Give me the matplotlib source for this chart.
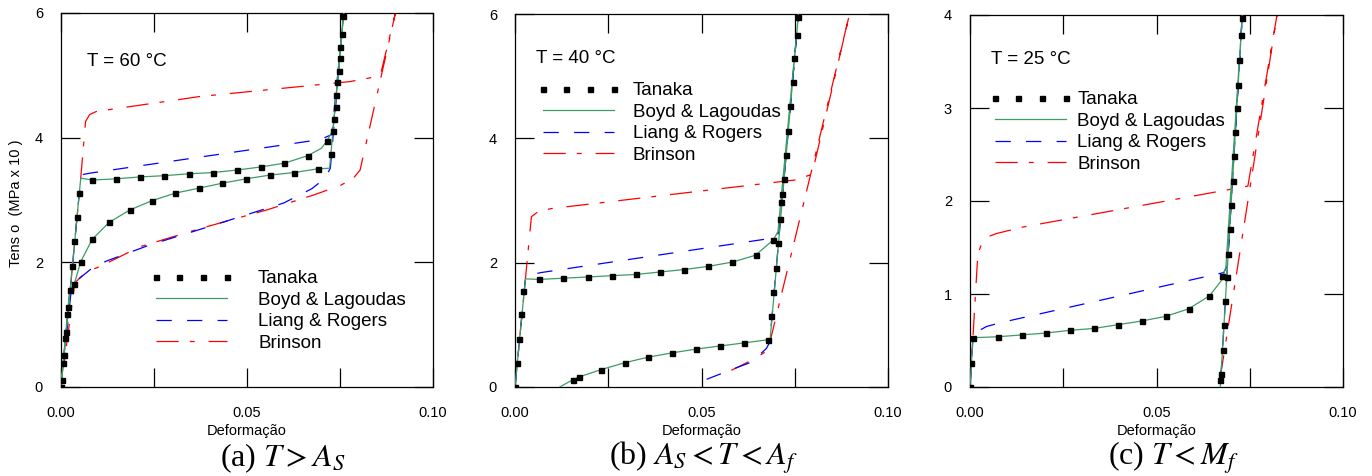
import numpy as np
import matplotlib
matplotlib.use('Agg')
import matplotlib.pyplot as plt
from matplotlib.ticker import FixedLocator

plt.rcParams['font.family'] = ['Liberation Sans', 'DejaVu Sans']
plt.rcParams['mathtext.fontset'] = 'stix'
plt.rcParams['lines.scale_dashes'] = False

# ---- (a) T = 60 C ----
tanaka_a_x = [0, 0.0006, 0.0012, 0.0017, 0.0023, 0.0030, 0.0036, 0.0042, 0.0048,
              0.0084, 0.0148, 0.0213, 0.0277, 0.0343, 0.0408, 0.0472, 0.0537, 0.0600, 0.0663, 0.0714,
              0.0732, 0.0735, 0.0738, 0.0740, 0.0743, 0.0746, 0.0749, 0.0751, 0.0755, 0.0759,
              0.0726, 0.0690, 0.0626, 0.0562, 0.0498, 0.0434, 0.0371, 0.0307, 0.0245, 0.0185,
              0.0129, 0.0084, 0.0053, 0.0036, 0.0020, 0.0014, 0.0009, 0.0004]
tanaka_a_y = [0, 0.39, 0.78, 1.17, 1.55, 1.94, 2.35, 2.72, 3.11,
              3.32, 3.34, 3.37, 3.39, 3.42, 3.44, 3.48, 3.53, 3.59, 3.71, 3.94,
              4.11, 4.30, 4.50, 4.68, 4.89, 5.07, 5.28, 5.45, 5.66, 5.95,
              3.73, 3.50, 3.44, 3.40, 3.34, 3.27, 3.19, 3.11, 2.99, 2.84,
              2.64, 2.37, 2.01, 1.66, 1.29, 0.88, 0.51, 0.12]
boyd_a_x = [0, 0.0053, 0.0084, 0.0148, 0.0213, 0.0277, 0.0343, 0.0408, 0.0472, 0.0537, 0.0600,
            0.0663, 0.0700, 0.0714, 0.0731, 0.0760, 0.0722, 0.0690, 0.0626, 0.0562, 0.0498, 0.0434,
            0.0371, 0.0307, 0.0245, 0.0185, 0.0129, 0.0084, 0.0053, 0.0036, 0.0023, 0]
boyd_a_y = [0, 3.35, 3.32, 3.34, 3.37, 3.39, 3.42, 3.44, 3.48, 3.53, 3.59,
            3.71, 3.83, 3.94, 4.12, 6.0, 3.51, 3.50, 3.44, 3.40, 3.34, 3.27,
            3.19, 3.11, 2.99, 2.84, 2.64, 2.37, 2.01, 1.66, 1.55, 0]
liang_a_x = [0, 0.0053, 0.0060, 0.0077, 0.0697, 0.0728, 0.0760, 0.0724, 0.0710, 0.0674, 0.0598,
             0.0481, 0.0364, 0.0239, 0.0122, 0.0086, 0.0045, 0.0028, 0]
liang_a_y = [0, 3.35, 3.41, 3.43, 3.97, 4.05, 6.0, 3.51, 3.35, 3.18, 2.95,
             2.73, 2.51, 2.28, 2.02, 1.92, 1.72, 1.58, 0]
brinson_a_x = [0, 0.0053, 0.0066, 0.0077, 0.0095, 0.0373, 0.0643, 0.0777, 0.0822, 0.0858, 0.0899,
               0.0804, 0.0786, 0.0750, 0.0679, 0.0553, 0.0373, 0.0212, 0.0104, 0.0068, 0.0037, 0]
brinson_a_y = [0, 3.35, 4.26, 4.37, 4.42, 4.66, 4.82, 4.90, 4.95, 4.99, 6.0,
               3.48, 3.35, 3.23, 3.08, 2.84, 2.54, 2.25, 1.93, 1.85, 1.67, 0]

# ---- (b) T = 40 C ----
tanaka_b_x = [0, 0.0005, 0.0011, 0.0017, 0.0022,
              0.0064, 0.0130, 0.0195, 0.0259, 0.0324, 0.0389, 0.0454, 0.0518, 0.0583, 0.0645, 0.0693,
              0.0705, 0.0710, 0.0714, 0.0717, 0.0721, 0.0726, 0.0732, 0.0737, 0.0744, 0.0749, 0.0755, 0.0760,
              0.0699, 0.0693, 0.0687, 0.0678, 0.0615, 0.0550, 0.0486, 0.0422, 0.0357, 0.0294, 0.0231,
              0.0171, 0.0156]
tanaka_b_y = [0, 0.39, 0.78, 1.17, 1.55,
              1.73, 1.75, 1.77, 1.79, 1.81, 1.85, 1.89, 1.94, 2.01, 2.12, 2.37,
              2.31, 2.71, 2.98, 3.11, 3.34, 3.73, 4.12, 4.52, 4.91, 5.29, 5.67, 5.95,
              1.92, 1.53, 1.15, 0.76, 0.71, 0.66, 0.61, 0.55, 0.48, 0.39, 0.28,
              0.16, 0.12]
boyd_b_x = [0, 0.0028, 0.0064, 0.0130, 0.0195, 0.0259, 0.0324, 0.0389, 0.0454, 0.0518, 0.0583,
            0.0645, 0.0693, 0.0705, 0.0760, 0.0684, 0.0678, 0.0615, 0.0550, 0.0486, 0.0422, 0.0357,
            0.0294, 0.0231, 0.0171, 0.0156, 0.0120]
boyd_b_y = [0, 1.74, 1.73, 1.75, 1.77, 1.79, 1.81, 1.85, 1.89, 1.94, 2.01,
            2.12, 2.37, 2.50, 6.0, 0.77, 0.76, 0.71, 0.66, 0.61, 0.55, 0.48,
            0.39, 0.28, 0.16, 0.12, 0]
liang_b_x = [0, 0.0028, 0.0039, 0.0069, 0.0696, 0.0708, 0.0760, 0.0683, 0.0674, 0.0634, 0.0598,
             0.0482, 0.0480]
liang_b_y = [0, 1.74, 1.80, 1.84, 2.40, 2.50, 6.0, 0.72, 0.62, 0.40, 0.32,
             0.05, 0.04]
brinson_b_x = [0, 0.0044, 0.0062, 0.0097, 0.0750, 0.0796, 0.0897, 0.0678, 0.0643, 0.0598, 0.0580]
brinson_b_y = [0, 2.74, 2.82, 2.87, 3.33, 3.42, 6.0, 0.59, 0.46, 0.32, 0.27]

# ---- (c) T = 25 C ----
tanaka_c_x = [0, 0.0004, 0.0008, 0.0074, 0.0139, 0.0203, 0.0269, 0.0333, 0.0397, 0.0461, 0.0525,
              0.0586, 0.0642, 0.0675,
              0.0691, 0.0696, 0.0700, 0.0704, 0.0707, 0.0711, 0.0715, 0.0719, 0.0722, 0.0727, 0.0730,
              0.0688, 0.0684, 0.0680, 0.0677, 0.0673, 0.0671]
tanaka_c_y = [0, 0.26, 0.53, 0.54, 0.56, 0.58, 0.61, 0.63, 0.67, 0.71, 0.76,
              0.84, 0.98, 1.19,
              1.43, 1.70, 1.96, 2.22, 2.48, 2.74, 3.00, 3.25, 3.52, 3.78, 3.97,
              1.18, 0.92, 0.67, 0.40, 0.14, 0.08]
boyd_c_x = [0, 0.0008, 0.0074, 0.0139, 0.0203, 0.0269, 0.0333, 0.0397, 0.0461, 0.0525, 0.0586,
            0.0642, 0.0675, 0.0686, 0.0730, 0.0671]
boyd_c_y = [0, 0.53, 0.54, 0.56, 0.58, 0.61, 0.63, 0.67, 0.71, 0.76, 0.84,
            0.98, 1.15, 1.29, 4.0, 0]
liang_c_x = [0, 0.0008, 0.0017, 0.0044, 0.0080, 0.0680, 0.0690, 0.0730, 0.0671]
liang_c_y = [0, 0.54, 0.59, 0.65, 0.69, 1.23, 1.30, 4.0, 0]
brinson_c_x = [0, 0.0021, 0.0037, 0.0071, 0.0142, 0.0745, 0.0823, 0.0667]
brinson_c_y = [0, 1.43, 1.60, 1.65, 1.72, 2.16, 4.0, 0]

labels = ['Tanaka', 'Boyd & Lagoudas', 'Liang & Rogers', 'Brinson']
temps = ['T = 60 °C', 'T = 40 °C', 'T = 25 °C']
captions = [r'(a) $T > A_S$', r'(b) $A_S < T < A_f$', r'(c) $T < M_f$']
ymax = [6, 6, 4]
yticks = [[0, 2, 4, 6], [0, 2, 4, 6], [0, 1, 2, 3, 4]]
temp_pos = [(0.007, 5.22), (0.0057, 5.29), (0.0055, 3.52)]

data = [
    (tanaka_a_x, tanaka_a_y, boyd_a_x, boyd_a_y, liang_a_x, liang_a_y, brinson_a_x, brinson_a_y),
    (tanaka_b_x, tanaka_b_y, boyd_b_x, boyd_b_y, liang_b_x, liang_b_y, brinson_b_x, brinson_b_y),
    (tanaka_c_x, tanaka_c_y, boyd_c_x, boyd_c_y, liang_c_x, liang_c_y, brinson_c_x, brinson_c_y),
]

W, H = 1372, 476
fig = plt.figure(figsize=(W / 100, H / 100), dpi=100)

# axes boxes in pixels: left, right, top, bottom
boxes = [(61, 433, 13, 387), (515, 888, 14, 387), (970, 1343, 15, 387)]
# legend upper-left (px) and handletextpad
leg_pos = [(150, 270, 1.36), (537, 82, 0.72), (989, 91, 0.3)]
cap_x = [220, 609, 1108]

green = '#3c9c64'

for i in range(3):
    l, r, t, b = boxes[i]
    ax = fig.add_axes([l / W, 1 - b / H, (r - l) / W, (b - t) / H])
    tx, ty, bx, by, lx, ly, brx, bry = data[i]
    ax.plot(brx, bry, color='red', lw=0.9, linestyle=(0, (16, 8, 3.5, 10)), label=labels[3], zorder=2)
    ax.plot(lx, ly, color='blue', lw=0.9, linestyle=(0, (11, 11)), label=labels[2], zorder=3)
    ax.plot(bx, by, color=green, lw=0.9, label=labels[1], zorder=4)
    ax.plot(tx, ty, 's', color='black', ms=3.6, label=labels[0], zorder=5)

    ax.set_xlim(0, 0.1)
    ax.set_ylim(0, ymax[i])
    ax.set_xticks([0, 0.05, 0.1])
    ax.set_xticklabels(['0.00', '0.05', '0.10'])
    ax.xaxis.set_minor_locator(FixedLocator([0.025, 0.075]))
    ax.set_yticks(yticks[i])
    ax.set_yticklabels([str(v) for v in yticks[i]])
    ax.tick_params(which='both', direction='in', length=14, width=0.9, top=True, right=True,
                   labelsize=10.5)
    ax.tick_params(axis='x', which='major', pad=14)
    ax.tick_params(axis='y', which='major', pad=13)
    for s in ax.spines.values():
        s.set_linewidth(0.9)

    ax.text(temp_pos[i][0], temp_pos[i][1], temps[i], fontsize=13.5, va='center', ha='left')

    h, lab = ax.get_legend_handles_labels()
    order = [3, 2, 1, 0]
    lx0, ly0, htp = leg_pos[i]
    ax.legend([h[k] for k in order], [lab[k] for k in order], loc='upper left',
              bbox_to_anchor=(lx0 / W, 1 - ly0 / H), bbox_transform=fig.transFigure,
              frameon=False, fontsize=13.5, numpoints=4, handlelength=4.4,
              handletextpad=htp, labelspacing=0.24, borderpad=0, borderaxespad=0)

    fig.text(((l + r) / 2) / W, 1 - 431 / H, 'Deformação', fontsize=10.5, ha='center', va='center')
    fig.text(cap_x[i] / W, 1 - 458 / H, captions[i], fontsize=23, ha='left', va='center',
             family=['Liberation Serif', 'DejaVu Serif'])

fig.text(16 / W, 1 - 203 / H, 'Tens o  (MPa x 10 )', fontsize=10.5, rotation=90,
         ha='center', va='center')

fig.savefig('out.png', dpi=100)
